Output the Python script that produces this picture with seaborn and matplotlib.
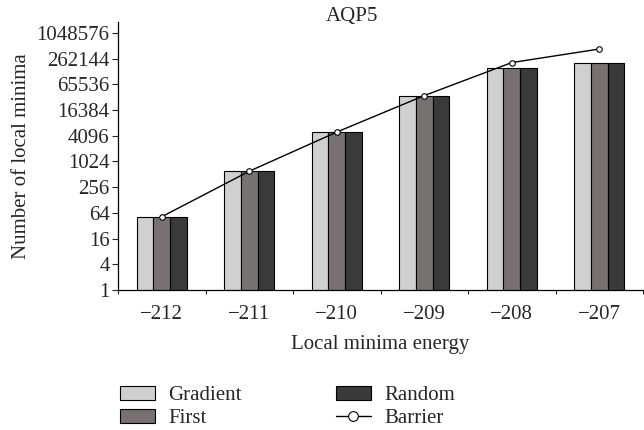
import matplotlib
matplotlib.use("Agg")
import matplotlib.pyplot as plt
from matplotlib.ticker import FixedLocator
from matplotlib.patches import Patch
from matplotlib.lines import Line2D
import numpy as np
import pandas as pd
import seaborn as sns

energies = ["\u2212212", "\u2212211", "\u2212210", "\u2212209", "\u2212208", "\u2212207"]
gradient = [51, 610, 5000, 35700, 159000, 204000]
first = [51, 610, 5000, 35700, 159000, 204000]
random_ = [51, 610, 5000, 35700, 159000, 204000]
barrier = [52, 604, 5000, 35700, 212000, 440000]
methods = ["Gradient", "First", "Random"]
colors = ["#d0d0d0", "#787070", "#3a3a3a"]

df = pd.DataFrame({
    "energy": energies * 3,
    "count": gradient + first + random_,
    "method": sum([[m] * len(energies) for m in methods], []),
})

sns.set_style("white")
plt.rcParams["font.family"] = ["Liberation Serif", "DejaVu Serif"]
fs = 15

fig = plt.figure(figsize=(6.44, 4.30), dpi=100)
ax = fig.add_axes([118 / 644, 1 - 290 / 430, 525 / 644, 268 / 430])

sns.barplot(
    data=df,
    x="energy",
    y="count",
    hue="method",
    palette=colors,
    width=0.57,
    gap=0,
    edgecolor="black",
    linewidth=0.8,
    ax=ax,
    legend=False,
)

sns.lineplot(
    x=np.arange(len(energies)),
    y=barrier,
    color="black",
    linewidth=1.0,
    marker="o",
    markersize=4,
    markerfacecolor="white",
    markeredgecolor="black",
    markeredgewidth=0.8,
    ax=ax,
)

ax.set_yscale("log", base=2)
ax.set_ylim(1, 2 ** 20.85)
ax.set_xlim(-0.5, 5.5)

yt = [4 ** i for i in range(11)]
ax.set_yticks(yt)
ax.set_yticklabels([str(v) for v in yt])
ax.yaxis.set_minor_locator(FixedLocator([]))

ax.set_xticks(range(len(energies)))
ax.set_xticklabels(energies)
ax.xaxis.set_minor_locator(FixedLocator(np.arange(-0.5, 6, 1.0)))
ax.tick_params(axis="x", which="major", length=0, pad=11, labelsize=fs)
ax.tick_params(axis="x", which="minor", length=3, width=0.8, direction="out", bottom=True)
ax.tick_params(axis="y", which="major", length=4, width=0.8, direction="out", left=True, labelsize=fs, pad=2)

for s in ["top", "right"]:
    ax.spines[s].set_visible(False)
for s in ["left", "bottom"]:
    ax.spines[s].set_color("black")
    ax.spines[s].set_linewidth(0.9)

ax.set_xlabel("Local minima energy", fontsize=fs, labelpad=8)
ax.set_ylabel("Number of local minima", fontsize=fs, labelpad=4)
fig.text(352 / 644, 1 - 16 / 430, "AQP5", ha="center", va="center", fontsize=fs)

handles = [Patch(facecolor=c, edgecolor="black", linewidth=0.8) for c in colors]
handles.append(Line2D([], [], color="black", linewidth=1.0, marker="o", markersize=7,
                      markerfacecolor="white", markeredgecolor="black", markeredgewidth=0.8))
labels = methods + ["Barrier"]
fig.legend(
    handles, labels,
    loc="upper left",
    bbox_to_anchor=(120 / 644, 1 - 386 / 430),
    ncol=2,
    frameon=False,
    fontsize=fs,
    handlelength=1.7,
    handleheight=0.63,
    handletextpad=0.63,
    columnspacing=4.5,
    labelspacing=0.2,
    borderpad=0,
    borderaxespad=0,
)

fig.savefig("out.png", dpi=100)
